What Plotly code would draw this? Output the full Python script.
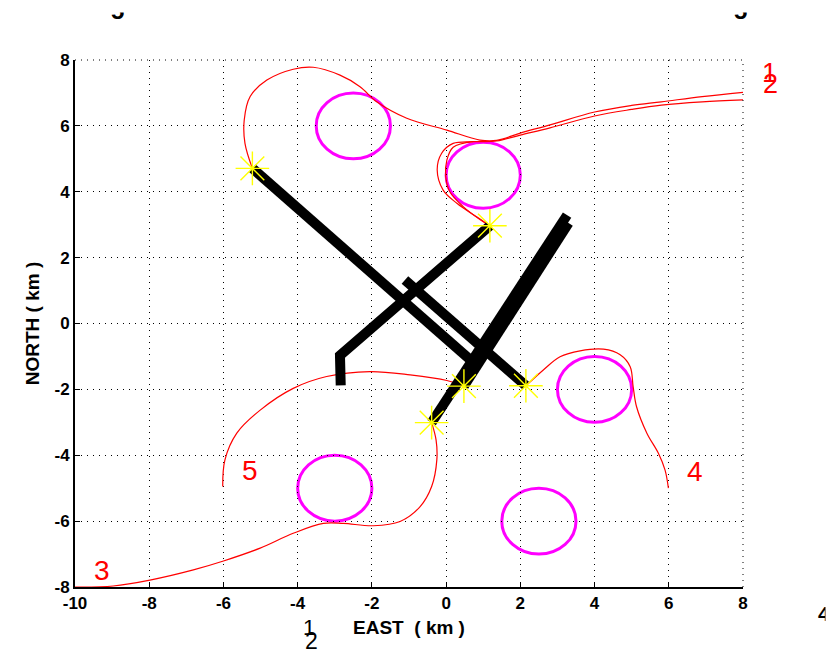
import plotly.graph_objects as go

# ---- track data (km) ----
# planned paths (red)
path1_x = [8.0, 6.9, 5.8, 5.0, 4.0, 2.8, 2.0, 1.36, 0.91, 0.02, -1.06, -1.87, -2.32, -2.86, -3.58, -4.12, -4.83, -5.28, -5.44, -5.42, -5.22]
path1_y = [7.02, 6.89, 6.73, 6.62, 6.42, 6.03, 5.78, 5.56, 5.57, 5.87, 6.23, 6.73, 7.19, 7.54, 7.78, 7.72, 7.39, 6.89, 6.18, 5.47, 4.71]

path2_x = [8.0, 6.9, 5.8, 5.0, 4.0, 2.8, 2.0, 1.36, 0.73, 0.19, -0.12, -0.24, -0.08, 0.29, 0.82, 1.18]
path2_y = [6.79, 6.73, 6.63, 6.5, 6.3, 5.94, 5.72, 5.54, 5.52, 5.47, 5.17, 4.66, 4.05, 3.65, 3.24, 2.97]

path2b_x = [0.73, 0.19, 0.02, -0.01, 0.10, 0.46, 0.91, 1.18]
path2b_y = [5.52, 5.35, 4.96, 4.46, 4.00, 3.55, 3.16, 2.97]

path3_x = [-10.0, -8.97, -7.98, -6.81, -6.0, -5.01, -4.12, -3.31, -2.77, -1.96, -1.24, -0.70, -0.39, -0.25, -0.27, -0.39]
path3_y = [-8.0, -7.97, -7.79, -7.48, -7.21, -6.82, -6.37, -6.07, -6.07, -6.14, -6.01, -5.56, -4.95, -4.14, -3.54, -3.01]

path4_x = [2.17, 2.62, 3.07, 3.61, 4.24, 4.69, 4.96, 5.04, 5.13, 5.41, 5.72, 5.90, 5.99]
path4_y = [-1.87, -1.41, -1.01, -0.83, -0.78, -0.95, -1.31, -1.92, -2.52, -3.33, -3.94, -4.45, -5.0]

path5_x = [-6.02, -5.96, -5.64, -5.01, -4.12, -3.22, -2.05, -0.97, 0.02, 0.48]
path5_y = [-4.95, -4.14, -3.33, -2.63, -1.97, -1.61, -1.46, -1.56, -1.73, -1.90]

paths = [(path1_x, path1_y), (path2_x, path2_y), (path2b_x, path2b_y),
         (path3_x, path3_y), (path4_x, path4_y), (path5_x, path5_y)]

# flown tracks (black)
track1_x = [-5.22, 0.85]
track1_y = [4.71, -1.30]
track2_x = [-1.11, 2.15]
track2_y = [1.32, -1.89]
track3_x = [1.18, -2.86, -2.84]
track3_y = [2.97, -0.97, -1.88]
track4_x = [-0.39, 3.26]
track4_y = [-3.01, 3.29]
track5_x = [0.48, 3.30]
track5_y = [-1.90, 3.05]
tracks = [(track1_x, track1_y), (track2_x, track2_y), (track3_x, track3_y),
          (track4_x, track4_y), (track5_x, track5_y)]

# vehicle positions
vehicle_x = [-5.22, 1.18, 0.48, 2.15, -0.39]
vehicle_y = [4.71, 2.97, -1.90, -1.89, -3.01]

# no-fly zones
zone_cx = [-2.5, 1.0, 4.0, 2.5, -3.0]
zone_cy = [6.0, 4.5, -2.0, -6.0, -5.0]
zone_r = [1.0, 1.0, 1.0, 1.0, 1.0]

# path labels inside the axes
label_text = ["3", "4", "5"]
label_x = [-9.28, 6.71, -5.28]
label_y = [-7.51, -4.48, -4.46]

tick_vals_x = list(range(-10, 9, 2))
tick_vals_y = list(range(-8, 9, 2))

W, H = 834, 651
L, R, T, B = 75, 91, 60, 64
pw, ph = W - L - R, H - T - B


def px_to_paper(px, py):
    return (px - L) / pw, (H - B - py) / ph


fig = go.Figure()

for px_, py_ in paths:
    fig.add_trace(go.Scatter(x=px_, y=py_, mode="lines",
                             line=dict(color="#ff0000", width=1.2, shape="spline", smoothing=1.0),
                             hoverinfo="skip", showlegend=False))

for tx, ty in tracks:
    fig.add_trace(go.Scatter(x=tx, y=ty, mode="lines",
                             line=dict(color="#000000", width=10),
                             hoverinfo="skip", showlegend=False))

fig.add_trace(go.Scatter(x=vehicle_x, y=vehicle_y, mode="markers",
                         marker=dict(symbol="asterisk", size=28, color="#ffff00",
                                     line=dict(color="#ffff00", width=1.4)),
                         hoverinfo="skip", showlegend=False))

shapes = []
for cx, cy, r in zip(zone_cx, zone_cy, zone_r):
    shapes.append(dict(type="circle", xref="x", yref="y",
                       x0=cx - r, x1=cx + r, y0=cy - r, y1=cy + r,
                       line=dict(color="#ff00ff", width=3), layer="below"))
# dotted frame on the top and right edges
for x0, y0, x1, y1 in [(0, 1, 1, 1), (1, 0, 1, 1)]:
    shapes.append(dict(type="line", xref="paper", yref="paper",
                       x0=x0, y0=y0, x1=x1, y1=y1,
                       line=dict(color="#000000", width=1, dash="1px,5px")))

annotations = []
for t, lx, ly in zip(label_text, label_x, label_y):
    annotations.append(dict(x=lx, y=ly, xref="x", yref="y", text=t, showarrow=False,
                            font=dict(family="Liberation Sans, Arial", size=28, color="#ff0000")))

# path labels beyond the right edge of the axes
for t, sx, sy in [("1", 769, 73), ("2", 770, 84)]:
    xp, yp = px_to_paper(sx, sy)
    annotations.append(dict(x=xp, y=yp, xref="paper", yref="paper", text=t, showarrow=False,
                            xanchor="center", yanchor="middle",
                            font=dict(family="Liberation Sans, Arial", size=27, color="#ff0000")))

# stray digit labels around the frame
stray = [("1", 309, 627, 22, "normal", "center"),
         ("2", 311, 641, 23, "normal", "center"),
         ("5", 117, 11, 24, "bold", "center"),
         ("5", 740, 11, 24, "bold", "center"),
         ("4", 816, 613, 21, "bold", "left")]
for t, sx, sy, fs, wt, xa in stray:
    xp, yp = px_to_paper(sx, sy)
    annotations.append(dict(x=xp, y=yp, xref="paper", yref="paper", text=t, showarrow=False,
                            xanchor=xa, yanchor="middle",
                            font=dict(family="Liberation Sans, Arial", size=fs, color="#000000", weight=wt)))

# white masks trimming the stray digits
masks = [(117, 5.5, 30, 13), (740, 5.5, 30, 13), (830.5, 612, 9, 30)]
for mx, my, mw, mh in masks:
    xp, yp = px_to_paper(mx, my)
    annotations.append(dict(x=xp, y=yp, xref="paper", yref="paper", text="&nbsp;", showarrow=False,
                            xanchor="center", yanchor="middle", width=mw, height=mh,
                            bgcolor="#ffffff", borderpad=0, font=dict(size=8)))

axis_font = dict(family="Liberation Sans, Arial", size=17, color="#000000", weight="bold")
title_font = dict(family="Liberation Sans, Arial", size=19, color="#000000", weight="bold")

common_axis = dict(showline=True, linecolor="#000000", linewidth=2, mirror=False,
                   ticks="inside", ticklen=5, tickwidth=1, tickcolor="#000000",
                   showgrid=True, gridcolor="#000000", gridwidth=1, griddash="1px,5px",
                   zeroline=False, tickfont=axis_font)

fig.update_layout(
    width=W, height=H,
    margin=dict(l=L, r=R, t=T, b=B, pad=0),
    paper_bgcolor="#ffffff", plot_bgcolor="#ffffff",
    showlegend=False,
    xaxis=dict(range=[-10, 8], tickvals=tick_vals_x, ticktext=[str(v) for v in tick_vals_x],
               title=dict(text="EAST\u00a0\u00a0(\u00a0km\u00a0)", font=title_font, standoff=8),
               **common_axis),
    yaxis=dict(range=[-8, 8], tickvals=tick_vals_y, ticktext=[str(v) for v in tick_vals_y],
               title=dict(text="NORTH\u00a0(\u00a0km\u00a0)", font=title_font, standoff=10),
               **common_axis),
    shapes=shapes,
    annotations=annotations,
)

fig.write_html("out.html")
